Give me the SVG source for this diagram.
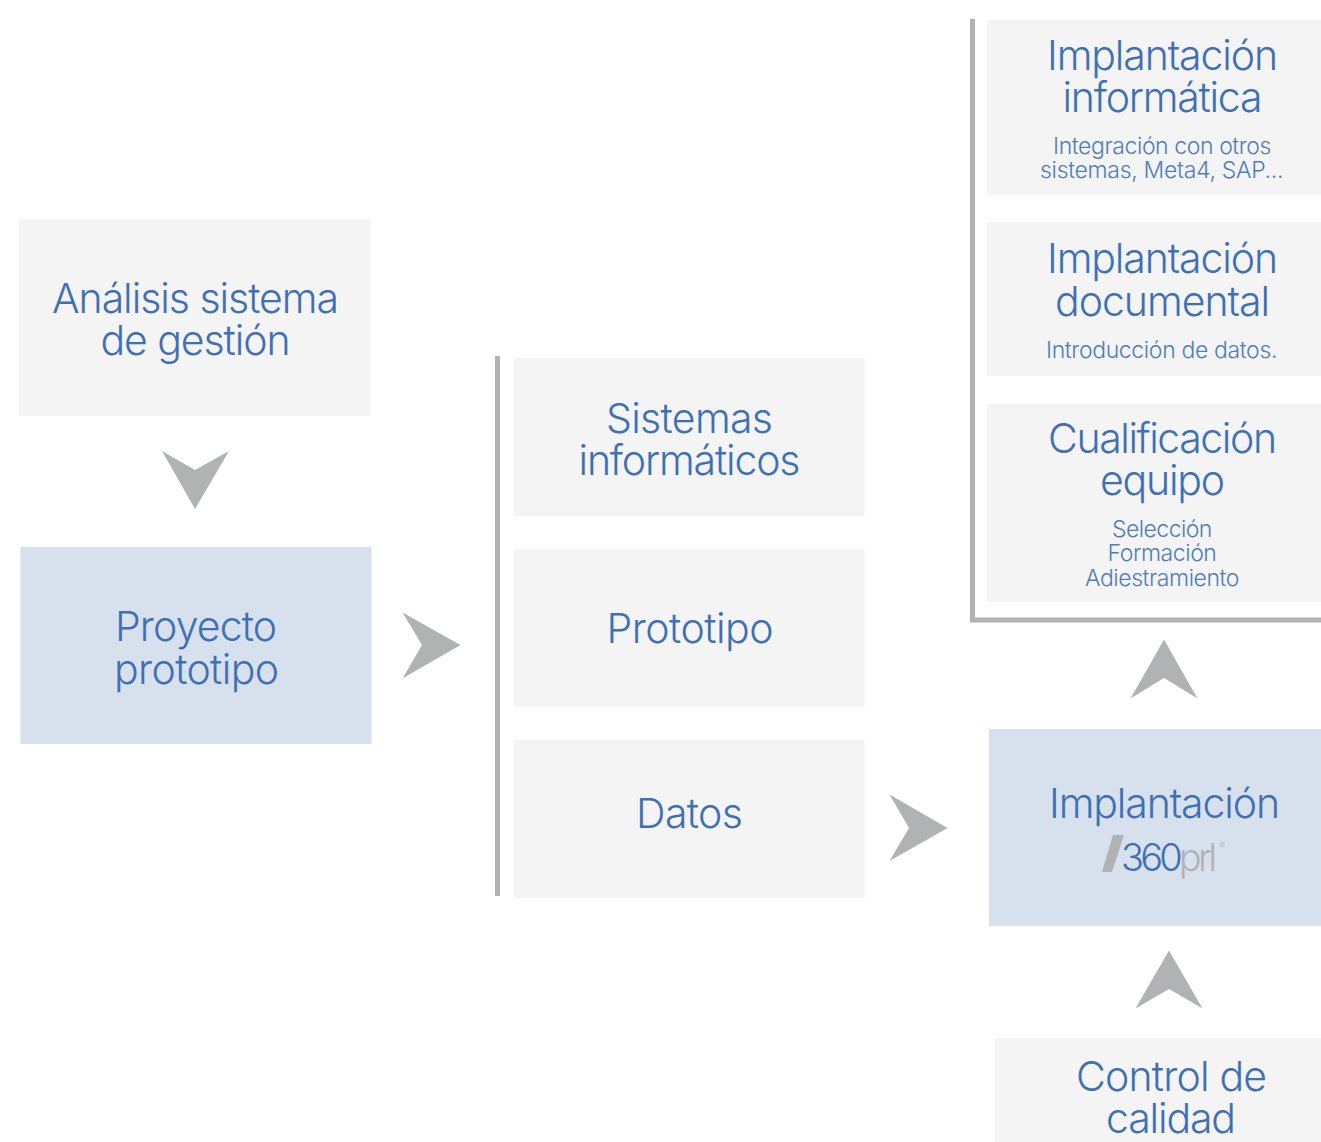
<svg xmlns="http://www.w3.org/2000/svg" width="1321" height="1142" viewBox="0 0 1321 1142">
<style>
text{font-family:"Inter","Liberation Sans",sans-serif;font-weight:300;text-anchor:middle;fill:#3f70b3}
.t{font-size:41px;letter-spacing:-1px}
.s{font-size:23px;letter-spacing:-.4px;fill:#4f7dba}
.g{fill:#f4f4f4}.b{fill:#d7e1ee}.a{fill:#b1b2b4}
</style>
<rect width="1321" height="1142" fill="#fff"/>
<g id="connectors">
<polygon class="a" points="162,451 195,470 229,451 195,509"/>
<polygon class="a" points="402.500,612.500 460.500,645 402.500,678.500 422,645"/>
<polygon class="a" points="889.500,794.500 947.500,828 889.500,861 909,828"/>
<polygon class="a" points="1130.500,698.500 1164,639.500 1197.500,698.500 1164,678"/>
<polygon class="a" points="1135.500,1008.500 1169,950.500 1202.500,1008.500 1169,989"/>
<rect class="a" x="495" y="356" width="5" height="540"/>
<path d="M972.500 19V620H1321" fill="none" stroke="#b1b2b4" stroke-width="5"/>
</g>
<g id="analisis"><rect class="g" x="19" y="219" width="351.500" height="197"/><text class="t" x="195" y="313" textLength="286">Análisis sistema</text><text class="t" x="195" y="355" textLength="189">de gestión</text></g>
<g id="proyecto"><rect class="b" x="20.500" y="547" width="351" height="197"/><text class="t" x="195.500" y="641" textLength="161">Proyecto</text><text class="t" x="196" y="684" textLength="164">prototipo</text></g>
<g id="sistemas"><rect class="g" x="514" y="358" width="350.500" height="158"/><text class="t" x="689" y="433" textLength="166">Sistemas</text><text class="t" x="689" y="475" textLength="221">informáticos</text></g>
<g id="prototipo"><rect class="g" x="514" y="549" width="350.500" height="158"/><text class="t" x="689.500" y="643" textLength="166">Prototipo</text></g>
<g id="datos"><rect class="g" x="514" y="740" width="350.500" height="158"/><text class="t" x="689" y="828" textLength="106">Datos</text></g>
<g id="impl-informatica"><rect class="g" x="987" y="20" width="334" height="175"/><text class="t" x="1162" y="70" textLength="230">Implantación</text><text class="t" x="1162" y="112" textLength="199">informática</text><text class="s" x="1162" y="154" textLength="218">Integración con otros</text><text class="s" x="1161.500" y="178" textLength="243">sistemas, Meta4, SAP...</text></g>
<g id="impl-documental"><rect class="g" x="987" y="222" width="334" height="154"/><text class="t" x="1162" y="273" textLength="230">Implantación</text><text class="t" x="1162" y="316" textLength="214">documental</text><text class="s" x="1161.500" y="358" textLength="231">Introducción de datos.</text></g>
<g id="cualificacion"><rect class="g" x="987" y="404" width="334" height="198"/><text class="t" x="1162" y="453" textLength="228">Cualificación</text><text class="t" x="1162" y="495" textLength="124">equipo</text><text class="s" x="1162" y="537" textLength="100">Selección</text><text class="s" x="1162" y="561" textLength="109">Formación</text><text class="s" x="1162" y="586" textLength="154">Adiestramiento</text></g>
<g id="implantacion"><rect class="b" x="989" y="729" width="332" height="197"/><text class="t" x="1164" y="818" textLength="230">Implantación</text>
<polygon class="a" points="1113,835 1124,835 1112,872 1102,872"/>
<text x="1121" y="871" textLength="96" style="font-size:38px;text-anchor:start">360<tspan style="fill:#b1b2b4">prl</tspan></text>
<text x="1222" y="849" style="font-size:9px;fill:#b1b2b4">®</text></g>
<g id="control"><rect class="g" x="995" y="1038" width="326" height="104"/><text class="t" x="1171" y="1091" textLength="190">Control de</text><text class="t" x="1170.500" y="1133" textLength="129">calidad</text></g>
</svg>
